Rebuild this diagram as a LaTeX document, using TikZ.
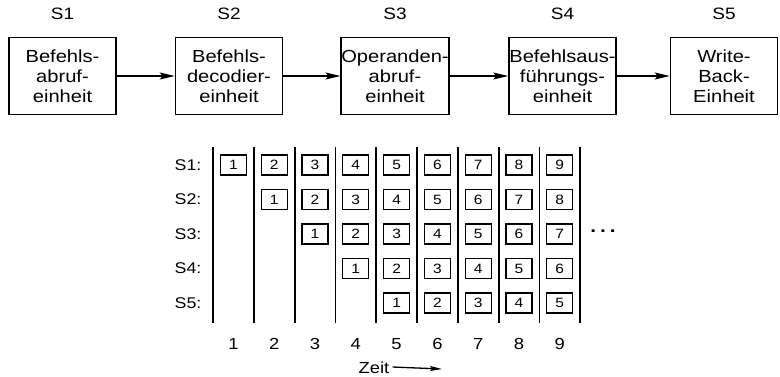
\documentclass[tikz,border=0pt]{standalone}
\usepackage{fontspec}
\setmainfont[FakeStretch=1.15]{Liberation Sans}
\usetikzlibrary{arrows.meta}
\begin{document}
\begin{tikzpicture}[x=1pt,y=-1pt,
  unit/.style={draw, line width=1.6pt, minimum width=107pt, minimum height=77pt,
    align=center, inner sep=0pt, font=\fontsize{17.5}{20}\selectfont},
  stagelab/.style={font=\fontsize{16.5}{19}\selectfont, inner sep=0pt},
  cell/.style={draw, line width=1.3pt, minimum width=26pt, minimum height=20pt,
    inner sep=0pt, font=\fontsize{13.5}{15}\selectfont},
  rowlab/.style={font=\fontsize{15.5}{18}\selectfont, inner sep=0pt},
  timelab/.style={font=\fontsize{16}{18}\selectfont, inner sep=0pt},
  flow/.style={line width=1.4pt, -{Stealth[length=15pt,width=7pt,inset=3pt]}},
  timeflow/.style={line width=1.3pt, -{Stealth[length=12pt,width=5pt,inset=2pt]}},
  gridline/.style={line width=1.8pt}
]
\useasboundingbox (0,0) rectangle (780,376);

% pipeline units
\node[unit] (b1) at (62.5,76) {Befehls-\\abruf-\\einheit};
\node[unit] (b2) at (229,76) {Befehls-\\decodier-\\einheit};
\node[unit] (b3) at (395,76) {Operanden-\\abruf-\\einheit};
\node[unit] (b4) at (562.5,76) {Befehlsaus-\\führungs-\\einheit};
\node[unit] (b5) at (724,76) {Write-\\Back-\\Einheit};

\foreach \i in {1,...,5}{
  \node[stagelab] (s\i) at ([yshift=22.5pt]b\i.north) {S\i};
}

\draw[flow] (b1.east) -- (b2.west);
\draw[flow] (b2.east) -- (b3.west);
\draw[flow] (b3.east) -- (b4.west);
\draw[flow] (b4.east) -- (b5.west);

% time grid
\foreach \k in {0,...,9}{
  \draw[gridline] (213+40.8*\k,147) -- (213+40.8*\k,323);
}
\foreach \r in {0,...,4}{
  \pgfmathtruncatemacro{\rl}{\r+1}
  \node[rowlab] (r\rl) at (188,165+34.5*\r) {S\rl:};
  \foreach \c in {\r,...,8}{
    \pgfmathtruncatemacro{\n}{\c-\r+1}
    \node[cell] (c\rl-\c) at (233.4+40.8*\c,165+34.5*\r) {\n};
  }
}
\foreach \c in {0,...,8}{
  \pgfmathtruncatemacro{\t}{\c+1}
  \node[timelab] (t\t) at (233.4+40.8*\c,344) {\t};
}
\node[font=\fontsize{18}{20}\selectfont\bfseries, inner sep=0pt] (dots) at (603,231) {.\hspace{4pt}.\hspace{4pt}.};

\node[timelab] (zeit) at (374,368) {Zeit};
\coordinate (zend) at (442,369);
\draw[timeflow] ([xshift=3pt,yshift=1pt]zeit.east) -- (zend);
\end{tikzpicture}
\end{document}
